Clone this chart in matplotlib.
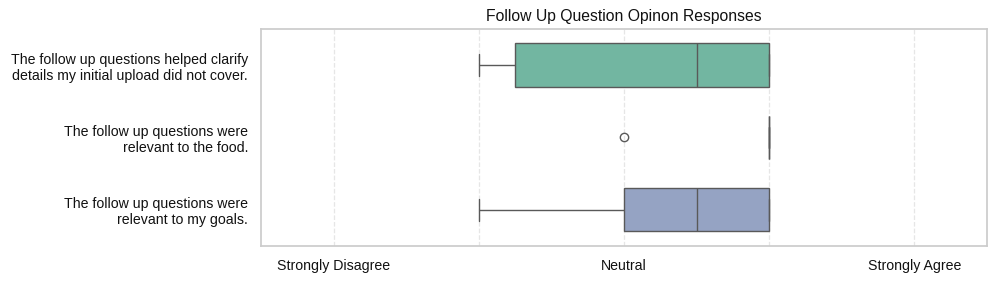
import matplotlib
matplotlib.use('Agg')
import matplotlib.pyplot as plt
import seaborn as sns
import pandas as pd

# Respuestas (1 = Strongly Disagree ... 5 = Strongly Agree)
questions = [
    "The follow up questions helped clarify\ndetails my initial upload did not cover.",
    "The follow up questions were\nrelevant to the food.",
    "The follow up questions were\nrelevant to my goals.",
]
clarify_scores = [2, 2, 3, 4, 4, 4]
food_scores = [3, 4, 4, 4, 4, 4]
goals_scores = [2, 3, 3, 4, 4, 4]

tick_values = [1, 2, 3, 4, 5]
tick_labels = ["Strongly Disagree", "", "Neutral", "", "Strongly Agree"]

rows = []
for q, scores in zip(questions, [clarify_scores, food_scores, goals_scores]):
    for s in scores:
        rows.append({"question": q, "score": s})
df = pd.DataFrame(rows)

sns.set_theme(style="whitegrid")
plt.rcParams['font.family'] = ['Liberation Sans', 'DejaVu Sans']

fig, ax = plt.subplots(figsize=(9.97, 2.81), dpi=100)
sns.boxplot(data=df, x="score", y="question", hue="question", palette="Set2",
            order=questions, width=0.6, ax=ax, legend=False)

ax.set_xlim(0.5, 5.5)
ax.set_xticks(tick_values)
ax.set_xticklabels(tick_labels, fontsize=10.2, color="#111111")
ax.tick_params(axis='y', labelsize=10.2, labelcolor="#111111")
ax.xaxis.grid(True, linestyle='--', color='#e6e6e6', linewidth=0.9)
ax.yaxis.grid(False)
ax.set_xlabel("")
ax.set_ylabel("")
ax.set_title("Follow Up Question Opinon Responses", fontsize=11.3, color="#111111")
for sp in ax.spines.values():
    sp.set_color('#cccccc')

fig.subplots_adjust(left=0.262, right=0.99, top=0.897, bottom=0.125)
plt.savefig('out.png', dpi=100)
